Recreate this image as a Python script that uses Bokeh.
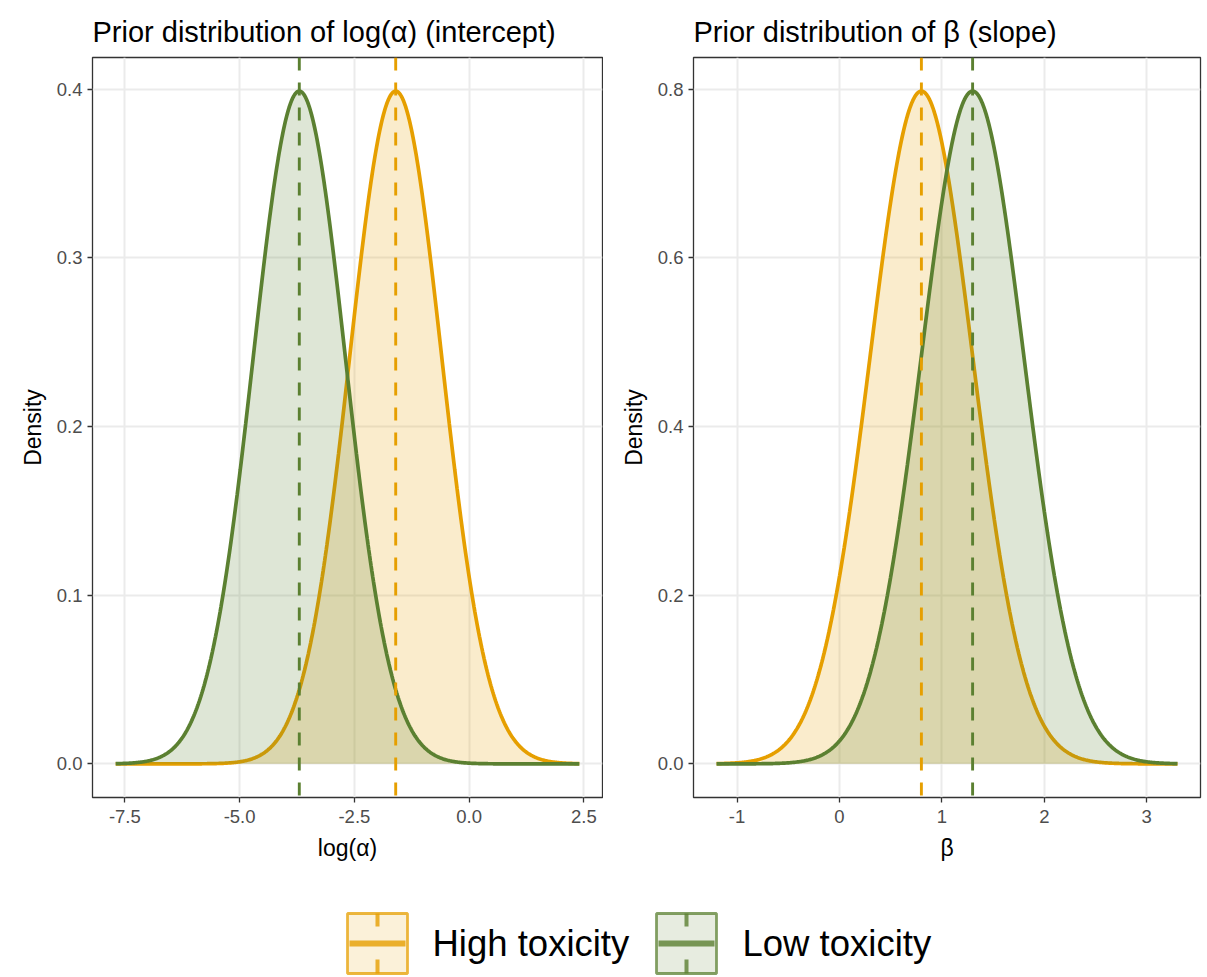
import numpy as np
from bokeh.plotting import figure
from bokeh.layouts import column, row
from bokeh.models import Span, FixedTicker, NumeralTickFormatter, Range1d, ColumnDataSource
from bokeh.embed import file_html
from bokeh.resources import INLINE

# ---- data ----
groups = ["High toxicity", "Low toxicity"]
colors = ["#E69F00", "#5B8031"]
logalpha_means = [-1.6, -3.7]
logalpha_sds = [1.0, 1.0]
beta_means = [0.8, 1.3]
beta_sds = [0.5, 0.5]
left_xticks = [-7.5, -5.0, -2.5, 0.0, 2.5]
left_yticks = [0.0, 0.1, 0.2, 0.3, 0.4]
right_xticks = [-1, 0, 1, 2, 3]
right_yticks = [0.0, 0.2, 0.4, 0.6, 0.8]
titles = ["Prior distribution of log(α) (intercept)", "Prior distribution of β (slope)"]

FONT = "Liberation Sans"
TXT = "#4D4D4D"
DARK = "#333333"
GRID = "#EBEBEB"
TITLE_H = 55
H = 825
TOP, BOTTOM = 2, 83


def normal_pdf(x, m, s):
    return np.exp(-0.5 * ((x - m) / s) ** 2) / (s * np.sqrt(2 * np.pi))


def panel(xlabel, means, sds, xticks, yticks, xfmt, width, bl, br):
    lo = min(means) - 4 * max(sds)
    hi = max(means) + 4 * max(sds)
    xs = np.linspace(lo, hi, 600)
    ymax = max(normal_pdf(m, m, s) for m, s in zip(means, sds))
    span = hi - lo
    p = figure(width=width, height=H, output_backend="svg", toolbar_location=None,
               x_range=Range1d(lo - 0.05 * span, hi + 0.05 * span),
               y_range=Range1d(-0.05 * ymax, ymax * 1.05),
               min_border_left=bl, min_border_right=br, min_border_top=TOP, min_border_bottom=BOTTOM,
               background_fill_color="white", border_fill_color="white")
    p.outline_line_color = DARK
    p.outline_line_width = 1.3
    for g, m, s, c in zip(groups, means, sds, colors):
        src = ColumnDataSource(dict(x=xs, y=normal_pdf(xs, m, s)))
        p.varea(x="x", y1=0, y2="y", source=src, fill_color=c, fill_alpha=0.2)
        p.line(x="x", y="y", source=src, line_color=c, line_width=3.7)
    for m, c in zip(means, colors):
        p.add_layout(Span(location=m, dimension="height", line_color=c,
                          line_width=2.9, line_dash="13 12"))
    p.xaxis.ticker = FixedTicker(ticks=xticks)
    p.yaxis.ticker = FixedTicker(ticks=yticks)
    p.xaxis.formatter = NumeralTickFormatter(format=xfmt)
    p.yaxis.formatter = NumeralTickFormatter(format="0.0")
    p.xaxis.axis_label = xlabel
    p.yaxis.axis_label = "Density"
    for ax in (p.xaxis, p.yaxis):
        ax.axis_label_text_font = FONT
        ax.axis_label_text_font_size = "23px"
        ax.axis_label_text_font_style = "normal"
        ax.axis_label_text_color = "black"
        ax.major_label_text_font = FONT
        ax.major_label_text_font_size = "18.5px"
        ax.major_label_text_color = TXT
        ax.major_tick_line_color = DARK
        ax.major_tick_line_width = 1.3
        ax.major_tick_out = 5
        ax.major_tick_in = 0
        ax.minor_tick_line_color = None
        ax.axis_line_color = None
    p.xaxis.major_label_standoff = 7
    p.xaxis.axis_label_standoff = 9
    p.yaxis.major_label_standoff = 5
    p.yaxis.axis_label_standoff = 8
    p.xgrid.ticker = FixedTicker(ticks=xticks)
    p.ygrid.ticker = FixedTicker(ticks=yticks)
    p.grid.grid_line_color = GRID
    p.grid.grid_line_width = 2
    p.grid.minor_grid_line_color = None
    return p


p1 = panel("log(α)", logalpha_means, logalpha_sds, left_xticks, left_yticks, "0.0", 603, 92, 1)
p2 = panel("β", beta_means, beta_sds, right_xticks, right_yticks, "0", 604, 90, 7)

# ---- title strip ----
tstrip = figure(width=1207, height=TITLE_H, output_backend="svg", toolbar_location=None,
                x_range=Range1d(0, 1207), y_range=Range1d(TITLE_H, 0),
                min_border=0, outline_line_color=None)
tstrip.axis.visible = False
tstrip.grid.visible = False
tstrip.text(x=[92, 693], y=[31, 31], text=titles, text_font_size="29px",
            text_baseline="alphabetic", text_align="left", text_color="black",
            text_font={"value": FONT})

# ---- legend strip ----
leg = figure(width=1207, height=97, output_backend="svg", toolbar_location=None,
             x_range=Range1d(0, 1207), y_range=Range1d(97, 0),
             min_border=0, outline_line_color=None)
leg.axis.visible = False
leg.grid.visible = False
key_x = [347, 656]
text_x = [432, 742]
top, bot = 33, 93
for kx, tx, c, g in zip(key_x, text_x, colors, groups):
    leg.quad(left=kx, right=kx + 60, top=top, bottom=bot, fill_color=c, fill_alpha=0.15,
             line_color=c, line_alpha=0.75, line_width=2.8)
    mid = (top + bot) / 2
    leg.segment(x0=kx + 2, y0=mid, x1=kx + 58, y1=mid, line_color=c, line_alpha=0.8, line_width=6)
    leg.segment(x0=kx + 30, y0=top, x1=kx + 30, y1=top + 13, line_color=c, line_alpha=0.8, line_width=4)
    leg.segment(x0=kx + 30, y0=bot - 14, x1=kx + 30, y1=bot, line_color=c, line_alpha=0.8, line_width=4)
    leg.text(x=[tx], y=[mid], text=[g], text_font_size="36.5px", text_baseline="middle",
             text_align="left", text_color="black", text_font={"value": FONT})

layout = column(tstrip, row(p1, p2), leg)
open("out.html", "w").write(file_html(layout, INLINE))
